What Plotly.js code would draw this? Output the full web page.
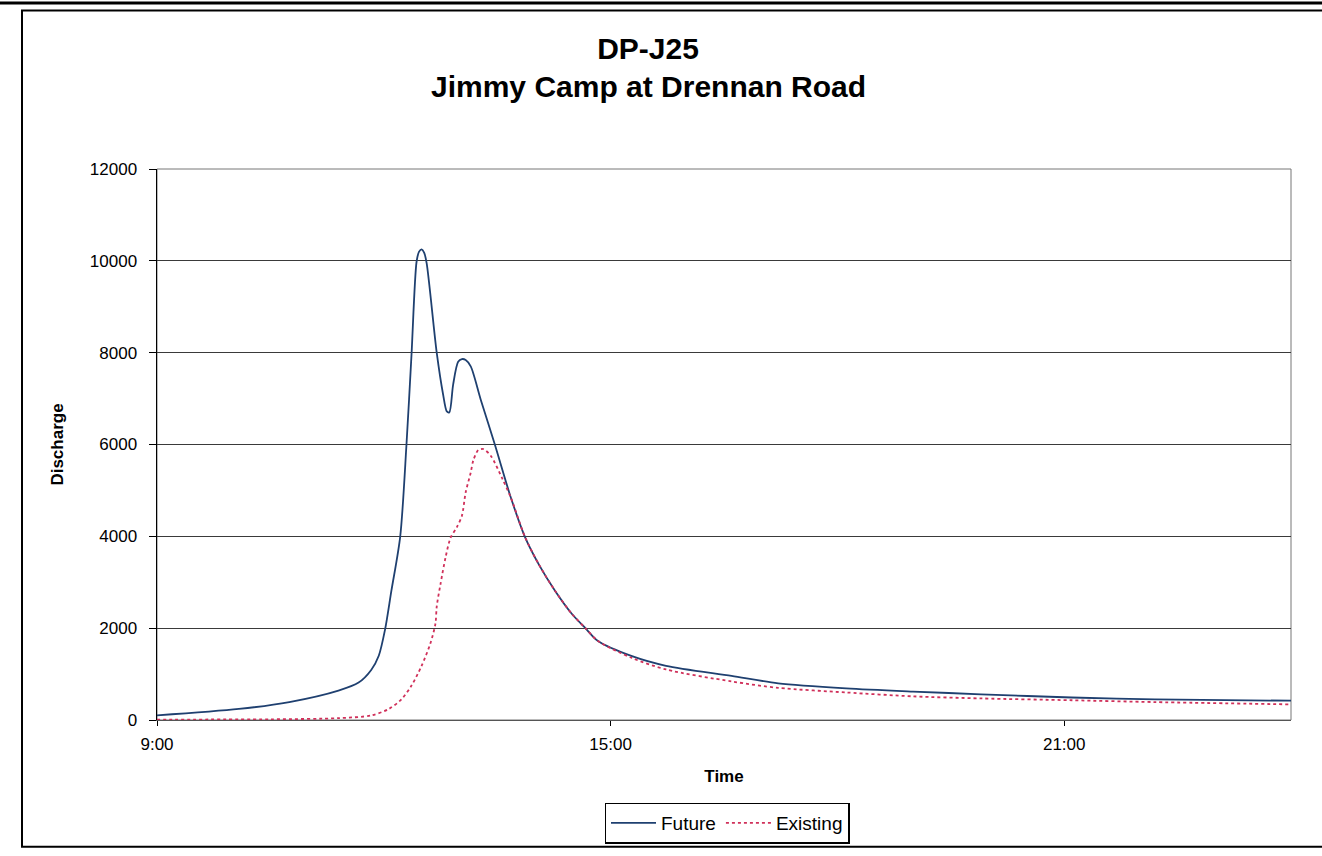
<!DOCTYPE html>
<html>
<head>
<meta charset="utf-8">
<script src="https://cdn.plot.ly/plotly-3.0.1.min.js"></script>
<style>
  html, body { margin: 0; padding: 0; background: #fff; }
  #chart { width: 1322px; height: 856px; }
</style>
</head>
<body>
<div id="chart"></div>
<script>
// ---- data ----
const futureTimes = ["09:00","10:05","10:45","11:24","11:40","11:50","11:56","12:01","12:06","12:13","12:18","12:22","12:26","12:28","12:30","12:32","12:34","12:42","12:47","12:50","12:52","12:55","12:59","13:02","13:05","13:09","13:17","13:28","13:41","13:52","14:03","14:16","14:29","14:40","14:50","15:17","15:44","16:36","17:13","18:07","19:00","19:54","21:06","22:12","24:00"];
const futureValues = [100,240,390,640,815,1090,1400,1970,2810,3990,6000,7960,9980,10200,10250,10180,9950,8000,7100,6720,6700,7300,7800,7860,7840,7700,6970,6010,4830,3990,3390,2810,2320,2000,1720,1390,1180,960,800,690,620,560,490,450,420];

const existingTimes = ["09:00","10:30","11:24","11:50","12:04","12:14","12:22","12:30","12:37","12:41","12:42","12:45","12:49","12:53","12:58","13:02","13:05","13:09","13:11","13:15","13:19","13:25","13:34","13:41","13:52","14:03","14:16","14:29","14:40","14:50","15:17","15:44","16:36","17:13","18:07","19:00","19:54","21:06","22:12","24:00"];
const existingValues = [10,15,40,100,240,450,750,1180,1670,2100,2470,2960,3540,3970,4200,4450,4960,5390,5650,5880,5900,5750,5260,4830,3990,3390,2810,2320,2000,1720,1350,1100,840,700,600,515,470,430,390,340];

const seriesNames = ["Future", "Existing"];
const titleLine1 = "DP-J25";
const titleLine2 = "Jimmy Camp at Drennan Road";
const xTitle = "Time";
const yTitle = "Discharge";

function toDate(t) {
  const [h, m] = t.split(":").map(Number);
  if (h >= 24) return "2000-01-02 " + String(h - 24).padStart(2, "0") + ":" + String(m).padStart(2, "0");
  return "2000-01-01 " + t;
}

const font = "Liberation Sans, Arial, sans-serif";

const traces = [
  {
    x: futureTimes.map(toDate), y: futureValues, name: seriesNames[0],
    type: "scatter", mode: "lines",
    line: { color: "#1f4070", width: 1.8, shape: "spline", smoothing: 0.8 }
  },
  {
    x: existingTimes.map(toDate), y: existingValues, name: seriesNames[1],
    type: "scatter", mode: "lines",
    line: { color: "#d0305a", width: 1.8, dash: "dot", shape: "spline", smoothing: 0.8 }
  }
];

const L = 157, R = 31, T = 169, B = 131;
const W = 1322, H = 856;
const pw = W - L - R, ph = H - T - B;
const px = v => (v - L) / pw;
const py = v => (H - B - v) / ph;

const layout = {
  width: W, height: H,
  margin: { l: L, r: R, t: T, b: B },
  paper_bgcolor: "#fff", plot_bgcolor: "#fff",
  font: { family: font, color: "#000", size: 16 },
  showlegend: true,
  title: {
    text: "<b>" + titleLine1 + "</b>",
    font: { family: font, size: 30, color: "#000" },
    x: 648 / W, xanchor: "center", y: 1 - 48 / H, yanchor: "middle"
  },
  annotations: [
    {
      text: "<b>" + titleLine2 + "</b>", showarrow: false,
      xref: "paper", yref: "paper", x: px(648), y: py(86),
      xanchor: "center", yanchor: "middle",
      font: { family: font, size: 30, color: "#000" }
    }
  ],
  xaxis: {
    type: "date",
    range: ["2000-01-01 09:00", "2000-01-02 00:00"],
    tick0: "2000-01-01 09:00", dtick: 6 * 3600 * 1000,
    tickformat: "%-H:%M",
    ticks: "outside", ticklen: 5, tickcolor: "#000",
    ticklabelstandoff: 4,
    showgrid: false, zeroline: false,
    showline: true, linecolor: "#555", linewidth: 1,
    tickfont: { family: font, size: 17, color: "#000" },
    title: { text: "<b>" + xTitle + "</b>", font: { family: font, size: 17, color: "#000" }, standoff: 16 }
  },
  yaxis: {
    range: [0, 12000], dtick: 2000, tick0: 0,
    tickformat: "d",
    ticks: "outside", ticklen: 7, tickcolor: "#000",
    ticklabelstandoff: 8,
    showgrid: true, gridcolor: "#3a3a3a", gridwidth: 1,
    zeroline: false,
    showline: true, linecolor: "#000", linewidth: 1.5,
    tickfont: { family: font, size: 17, color: "#000" },
    title: { text: "<b>" + yTitle + "</b>", font: { family: font, size: 17, color: "#000" }, standoff: 22 }
  },
  legend: {
    orientation: "h",
    x: px(727), xanchor: "center",
    y: py(829), yanchor: "middle",
    bgcolor: "#fff", bordercolor: "#000", borderwidth: 1.5,
    font: { family: font, size: 19, color: "#000" },
    itemwidth: 45
  },
  shapes: [
    { type: "rect", xref: "paper", yref: "paper", x0: 0, x1: 1, y0: 0, y1: 1,
      line: { color: "#777", width: 1 }, layer: "below" },
    { type: "rect", xref: "paper", yref: "paper",
      x0: px(22), x1: px(1326), y0: py(853), y1: py(9),
      line: { color: "#000", width: 2 }, layer: "below" },
    { type: "rect", xref: "paper", yref: "paper",
      x0: px(0), x1: px(1322), y0: py(3), y1: py(0),
      fillcolor: "#000", line: { width: 0 }, layer: "below" }
  ]
};

Plotly.newPlot("chart", traces, layout, { displayModeBar: false, staticPlot: true });
</script>
</body>
</html>
